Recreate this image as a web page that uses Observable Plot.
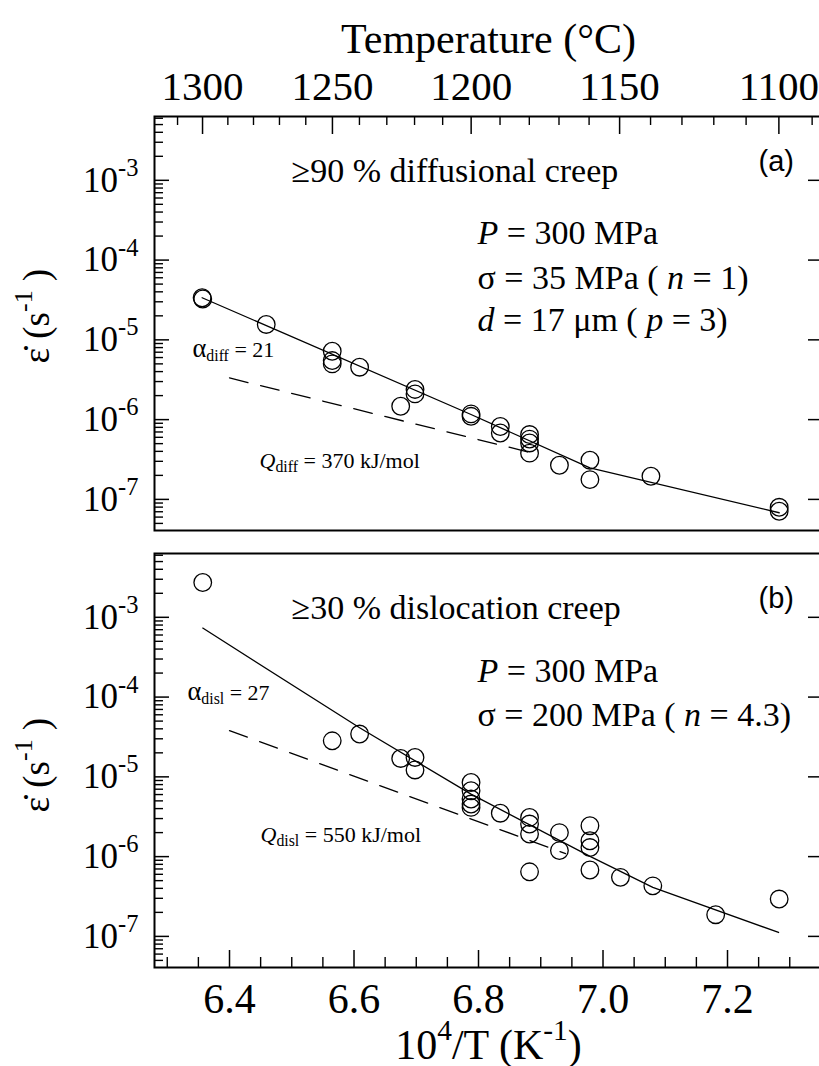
<!DOCTYPE html>
<html><head><meta charset="utf-8">
<script src="https://cdn.jsdelivr.net/npm/d3@7"></script>
<script src="https://cdn.jsdelivr.net/npm/@observablehq/plot@0.6"></script>
<style>
html,body{margin:0;padding:0;background:#fff;}
#wrap{width:819px;height:1066px;overflow:hidden;position:relative;background:#fff;}
#wrap svg{display:block;}
</style></head><body><div id="wrap"></div>
<script>
// ---------- data ----------
// panel (a): >=90 % diffusional creep
const diffX    = [6.356, 6.357, 6.459, 6.565, 6.565, 6.565, 6.609, 6.675, 6.698, 6.698, 6.788, 6.788, 6.835, 6.835, 6.882, 6.882, 6.882, 6.882, 6.930, 6.979, 6.979, 7.077, 7.283, 7.283];
const diffRate = [3.37e-5, 3.25e-5, 1.56e-5, 7.2e-6, 5.5e-6, 5.0e-6, 4.54e-6, 1.47e-6, 2.39e-6, 2.1e-6, 1.18e-6, 1.1e-6, 8.2e-7, 6.8e-7, 6.5e-7, 5.7e-7, 5.1e-7, 3.8e-7, 2.68e-7, 3.1e-7, 1.77e-7, 1.95e-7, 7.96e-8, 7.1e-8];
const diffFitX    = [6.356, 6.788, 6.979, 7.283];
const diffFitRate = [3.37e-5, 1.16e-6, 2.48e-7, 6.8e-8];
const diffDashX    = [6.40, 6.884];
const diffDashRate = [3.33e-6, 3.86e-7];

// panel (b): >=30 % dislocation creep
const dislX    = [6.357, 6.565, 6.609, 6.675, 6.698, 6.698, 6.788, 6.788, 6.788, 6.788, 6.788, 6.835, 6.882, 6.882, 6.882, 6.882, 6.930, 6.930, 6.979, 6.979, 6.979, 6.979, 7.028, 7.080, 7.181, 7.283];
const dislRate = [2.73e-3, 2.83e-5, 3.44e-5, 1.70e-5, 1.75e-5, 1.22e-5, 8.5e-6, 6.7e-6, 5.27e-6, 4.56e-6, 4.14e-6, 3.5e-6, 3.1e-6, 2.56e-6, 1.92e-6, 6.45e-7, 2.0e-6, 1.19e-6, 2.44e-6, 1.58e-6, 1.3e-6, 6.8e-7, 5.5e-7, 4.3e-7, 1.87e-7, 2.94e-7];
const dislFitX    = [6.357, 6.609, 6.788, 6.980, 7.080, 7.282];
const dislFitRate = [7.33e-4, 4.12e-5, 6.08e-6, 1.0e-6, 4.11e-7, 1.12e-7];
const dislDashX    = [6.40, 6.94];
const dislDashRate = [3.8e-5, 1.09e-6];

// ticks
const invTMinor  = [6.30, 6.35, 6.45, 6.50, 6.55, 6.65, 6.70, 6.75, 6.85, 6.90, 6.95, 7.05, 7.10, 7.15, 7.25, 7.30];
const invTMajor  = [6.4, 6.6, 6.8, 7.0, 7.2];
const invTLabels = ["6.4", "6.6", "6.8", "7.0", "7.2"];
const tempMinorC = [1310, 1290, 1280, 1270, 1260, 1240, 1230, 1220, 1210, 1190, 1180, 1170, 1160, 1140, 1130, 1120, 1110, 1090];
const tempMajorC = [1300, 1250, 1200, 1150, 1100];
const yDecadeExp = [-3, -4, -5, -6, -7];
const yMinorMult = [2, 3, 4, 5, 6, 7, 8, 9];
const yMinorExp  = [-8, -7, -6, -5, -4, -3];

// ---------- helpers ----------
const SERIF = "Liberation Serif, Times New Roman, serif";
const SANS = "Liberation Sans, Arial, sans-serif";
const xDomain = [6.2795, 7.3526];
const yDomain = [Math.pow(10, -7.39), Math.pow(10, -2.2)];
const W = 822, ML = 154, PW = W - ML;
const PH = 414;
const yDecades = yDecadeExp.map(e => Math.pow(10, e));
const yMinor = yMinorExp.flatMap(e => yMinorMult.map(m => m * Math.pow(10, e)))
  .filter(v => v > yDomain[0] && v < yDomain[1]);
const toInvT = c => 1e4 / (c + 273.15);
const pts = (xs, ys) => xs.map((x, i) => ({x, y: ys[i]}));

function note(text, dx, dy, size, extra = {}) {
  return Plot.text([text], {text: d => d, frameAnchor: "top-left", dx, dy, textAnchor: "start",
    lineAnchor: "bottom", fontSize: size, fontFamily: SERIF, fill: "black", ...extra});
}

function axesMarks() {
  return [
    Plot.tickY(yMinor, {y: d => d, insetRight: PW - 9, stroke: "black", strokeWidth: 1.4}),
    Plot.tickY(yDecades, {y: d => d, insetRight: PW - 15, stroke: "black", strokeWidth: 1.5}),
    Plot.tickY(yDecades, {y: d => d, insetLeft: PW - 14, stroke: "black", strokeWidth: 1.5}),
    Plot.text(yDecades, {y: d => d, text: (d, i) => `10^{${yDecadeExp[i]}}`, frameAnchor: "left",
      dx: -16, textAnchor: "end", lineAnchor: "middle", fontSize: 35, fontFamily: SERIF}),
    Plot.frame({stroke: "black", strokeWidth: 2})
  ];
}

function dataMarks(px, py, fx, fy, dx_, dy_) {
  return [
    Plot.line(pts(dx_, dy_), {x: "x", y: "y", stroke: "black", strokeWidth: 1.3, strokeDasharray: "19,13"}),
    Plot.line(pts(fx, fy), {x: "x", y: "y", stroke: "black", strokeWidth: 1.3}),
    Plot.dot(pts(px, py), {x: "x", y: "y", r: 8.8, stroke: "black", strokeWidth: 1.3, fill: "none"})
  ];
}

function yLabel(dy) {
  return Plot.text(["\u03b5\u0307 (s^{-1} )"], {text: d => d, frameAnchor: "left", dx: -106, dy,
    rotate: -90, textAnchor: "start", lineAnchor: "bottom", fontSize: 37, fontFamily: SERIF});
}

const svgA = Plot.plot({
  width: W, height: 541, marginLeft: ML, marginRight: 0, marginTop: 116, marginBottom: 11,
  x: {domain: xDomain, axis: null},
  y: {type: "log", domain: yDomain, axis: null},
  style: {fontFamily: SERIF, background: "white", maxWidth: "none", overflow: "visible"},
  marks: [
    ...axesMarks(),
    Plot.tickX(tempMinorC, {x: toInvT, insetBottom: PH - 9, stroke: "black", strokeWidth: 1.4}),
    Plot.tickX(tempMajorC, {x: toInvT, insetBottom: PH - 18, stroke: "black", strokeWidth: 1.5}),
    Plot.text(tempMajorC, {x: toInvT, text: d => String(d), frameAnchor: "top", dy: -17,
      lineAnchor: "bottom", fontSize: 41, fontFamily: SERIF}),
    Plot.text(["Temperature (\u00b0C)"], {text: d => d, frameAnchor: "top", dy: -64,
      lineAnchor: "bottom", fontSize: 42, fontFamily: SERIF}),
    yLabel(40),
    note("\u226590 % diffusional creep", 137, 65, 34),
    note("(a)", 604, 54, 29, {fontFamily: SANS}),
    note("*{P} = 300 MPa", 323, 127, 34),
    note("\u03c3 = 35 MPa ( *{n} = 1)", 323, 172, 34),
    note("*{d} = 17 \u03bcm ( *{p} = 3)", 323, 214, 34),
    note("+{\u03b1}_{diff} = 21", 38, 240, 22),
    note("*{Q}_{diff} = 370 kJ/mol", 105, 351, 22),
    ...dataMarks(diffX, diffRate, diffFitX, diffFitRate, diffDashX, diffDashRate)
  ]
});

const svgB = Plot.plot({
  width: W, height: 525, marginLeft: ML, marginRight: 0, marginTop: 12, marginBottom: 99,
  x: {domain: xDomain, axis: null},
  y: {type: "log", domain: yDomain, axis: null},
  style: {fontFamily: SERIF, background: "white", maxWidth: "none", overflow: "visible"},
  marks: [
    ...axesMarks(),
    Plot.tickX(invTMinor, {x: d => d, insetTop: PH - 10, stroke: "black", strokeWidth: 1.4}),
    Plot.tickX(invTMajor, {x: d => d, insetTop: PH - 17, stroke: "black", strokeWidth: 1.5}),
    Plot.text(invTMajor, {x: d => d, text: (d, i) => invTLabels[i], frameAnchor: "bottom", dy: 45,
      lineAnchor: "bottom", fontSize: 42, fontFamily: SERIF}),
    Plot.text(["10^{4}/T (K^{-1})"], {text: d => d, frameAnchor: "bottom", dy: 91,
      lineAnchor: "bottom", fontSize: 42, fontFamily: SERIF}),
    yLabel(52),
    note("\u226530 % dislocation creep", 137, 65, 34),
    note("(b)", 604, 54, 29, {fontFamily: SANS}),
    note("*{P} = 300 MPa", 323, 128, 34),
    note("\u03c3 = 200 MPa ( *{n} = 4.3)", 323, 172, 34),
    note("+{\u03b1}_{disl} = 27", 33, 146, 22),
    note("*{Q}_{disl} = 550 kJ/mol", 106, 288, 22),
    ...dataMarks(dislX, dislRate, dislFitX, dislFitRate, dislDashX, dislDashRate)
  ]
});

const wrap = document.getElementById("wrap");
wrap.appendChild(svgA);
wrap.appendChild(svgB);

// rich text: ^{sup}, _{sub}, *{italic}, +{larger}
const NS = "http://www.w3.org/2000/svg";
function rich(el) {
  const s = el.textContent;
  if (!/[\^_*+]\{/.test(s)) return;
  const fs = parseFloat(getComputedStyle(el).fontSize) || 10;
  el.textContent = "";
  const re = /([\^_*+])\{([^}]*)\}/g;
  let last = 0, m, shift = 0;
  const add = (txt, type) => {
    const t = document.createElementNS(NS, "tspan");
    t.textContent = txt;
    let target = 0;
    if (type === "^") { target = -0.45 * fs; t.setAttribute("font-size", 0.7 * fs); }
    else if (type === "_") { target = 0.22 * fs; t.setAttribute("font-size", 0.72 * fs); }
    else if (type === "*") t.setAttribute("font-style", "italic");
    else if (type === "+") t.setAttribute("font-size", 1.2 * fs);
    const d = target - shift;
    if (d) t.setAttribute("dy", d);
    shift = target;
    el.appendChild(t);
  };
  while ((m = re.exec(s))) {
    if (m.index > last) add(s.slice(last, m.index), "");
    add(m[2], m[1]);
    last = re.lastIndex;
  }
  if (last < s.length) add(s.slice(last), "");
}
wrap.querySelectorAll("text").forEach(rich);
</script></body></html>
